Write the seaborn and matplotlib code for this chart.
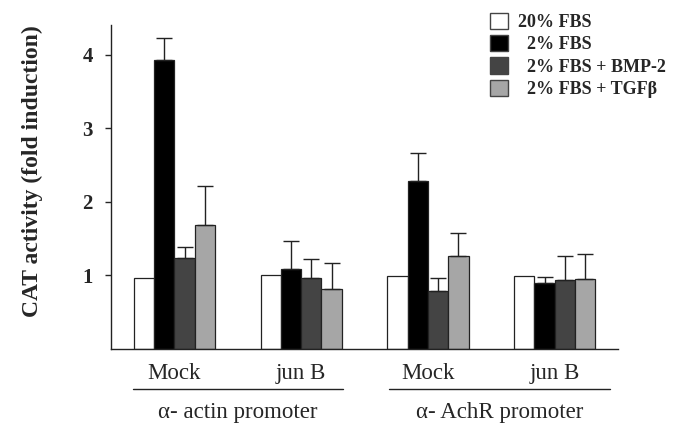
import matplotlib
matplotlib.use('Agg')
import matplotlib.pyplot as plt
import matplotlib.transforms as mtransforms
from matplotlib.patches import Patch
import seaborn as sns
import pandas as pd
import numpy as np

# ── Data ───────────────────────────────────────────────────────────────────
GROUP_KEYS   = ['actin_mock', 'actin_junb', 'achr_mock', 'achr_junb']
GROUP_LABELS = ['Mock', 'jun B', 'Mock', 'jun B']
PROMOTERS    = ['α- actin promoter', 'α- AchR promoter']
CONDITIONS   = ['20% FBS', '2% FBS', '2% FBS + BMP-2', '2% FBS + TGFβ']

fbs20     = [0.97, 1.01, 0.99, 0.99]
fbs2      = [3.92, 1.09, 2.28, 0.90]
fbs2_bmp  = [1.23, 0.97, 0.79, 0.93]
fbs2_tgf  = [1.69, 0.81, 1.26, 0.95]

err_fbs20    = [0.00, 0.00, 0.00, 0.00]
err_fbs2     = [0.31, 0.38, 0.38, 0.08]
err_fbs2_bmp = [0.15, 0.25, 0.17, 0.33]
err_fbs2_tgf = [0.53, 0.36, 0.32, 0.34]

COLORS = ['#ffffff', '#000000', '#444444', '#a6a6a6']

# ── Long table for seaborn ─────────────────────────────────────────────────
rows = []
for cond, vals, errs in zip(CONDITIONS,
                            [fbs20, fbs2, fbs2_bmp, fbs2_tgf],
                            [err_fbs20, err_fbs2, err_fbs2_bmp, err_fbs2_tgf]):
    for g, v, e in zip(GROUP_KEYS, vals, errs):
        rows.append({'group': g, 'condition': cond, 'value': v, 'err': e})
df = pd.DataFrame(rows)

sns.set_style('white')
plt.rcParams['font.family'] = ['Liberation Serif', 'DejaVu Serif']

fig = plt.figure(figsize=(6.77, 4.26), dpi=100)
ax = fig.add_axes([0.164, 0.181, 0.749, 0.760])

sns.barplot(data=df, x='group', y='value', hue='condition',
            order=GROUP_KEYS, hue_order=CONDITIONS,
            palette=COLORS, width=0.64, edgecolor='#222222',
            linewidth=0.9, errorbar=None, legend=False, ax=ax)

# upward-only error bars on top of each bar
for cont, cond in zip(ax.containers, CONDITIONS):
    sub = df[df['condition'] == cond].set_index('group').loc[GROUP_KEYS]
    for bar, v, e in zip(cont.patches, sub['value'], sub['err']):
        if e <= 0:
            continue
        xc = bar.get_x() + bar.get_width() / 2
        ax.errorbar(xc, v, yerr=[[0], [e]], fmt='none', ecolor='#222222',
                    elinewidth=1.0, capsize=6, capthick=1.0)

ax.set_xlim(-0.5, 3.5)
ax.set_ylim(0, 4.4)
ax.set_yticks([1, 2, 3, 4])
ax.set_yticklabels(['1', '2', '3', '4'], fontweight='bold', fontsize=15)
ax.set_xticks(range(len(GROUP_KEYS)))
ax.set_xticklabels(GROUP_LABELS, fontsize=16.5)
ax.tick_params(axis='y', direction='out', length=4, width=1, pad=9, left=True)
ax.tick_params(axis='x', length=0, pad=10)
ax.set_xlabel('')
ax.set_ylabel('CAT activity (fold induction)', fontsize=17, fontweight='bold')
ax.yaxis.set_label_coords(-0.134, 0.55)

for side in ['top', 'right']:
    ax.spines[side].set_visible(False)
for side in ['left', 'bottom']:
    ax.spines[side].set_color('#222222')
    ax.spines[side].set_linewidth(1.0)

# promoter group brackets under the tick labels
trans = mtransforms.blended_transform_factory(ax.transData, ax.transAxes)
for (x0, x1), name in zip([(-0.33, 1.33), (1.69, 3.44)], PROMOTERS):
    ax.plot([x0, x1], [-0.123, -0.123], color='#222222', lw=1.0,
            transform=trans, clip_on=False)
    ax.text((x0 + x1) / 2, -0.198, name, transform=trans, ha='center',
            va='center', fontsize=16.5)

handles = [Patch(facecolor=c, edgecolor='#444444', linewidth=1.0) for c in COLORS]
labels = ['20% FBS', '  2% FBS', '  2% FBS + BMP-2', '  2% FBS + TGFβ']
ax.legend(handles, labels, loc='upper left', bbox_to_anchor=(0.733, 1.06),
          frameon=False, prop={'weight': 'bold', 'size': 13},
          handlelength=1.0, handleheight=1.0, handletextpad=0.55,
          labelspacing=0.22, borderaxespad=0)

fig.savefig('out.png', dpi=100)
